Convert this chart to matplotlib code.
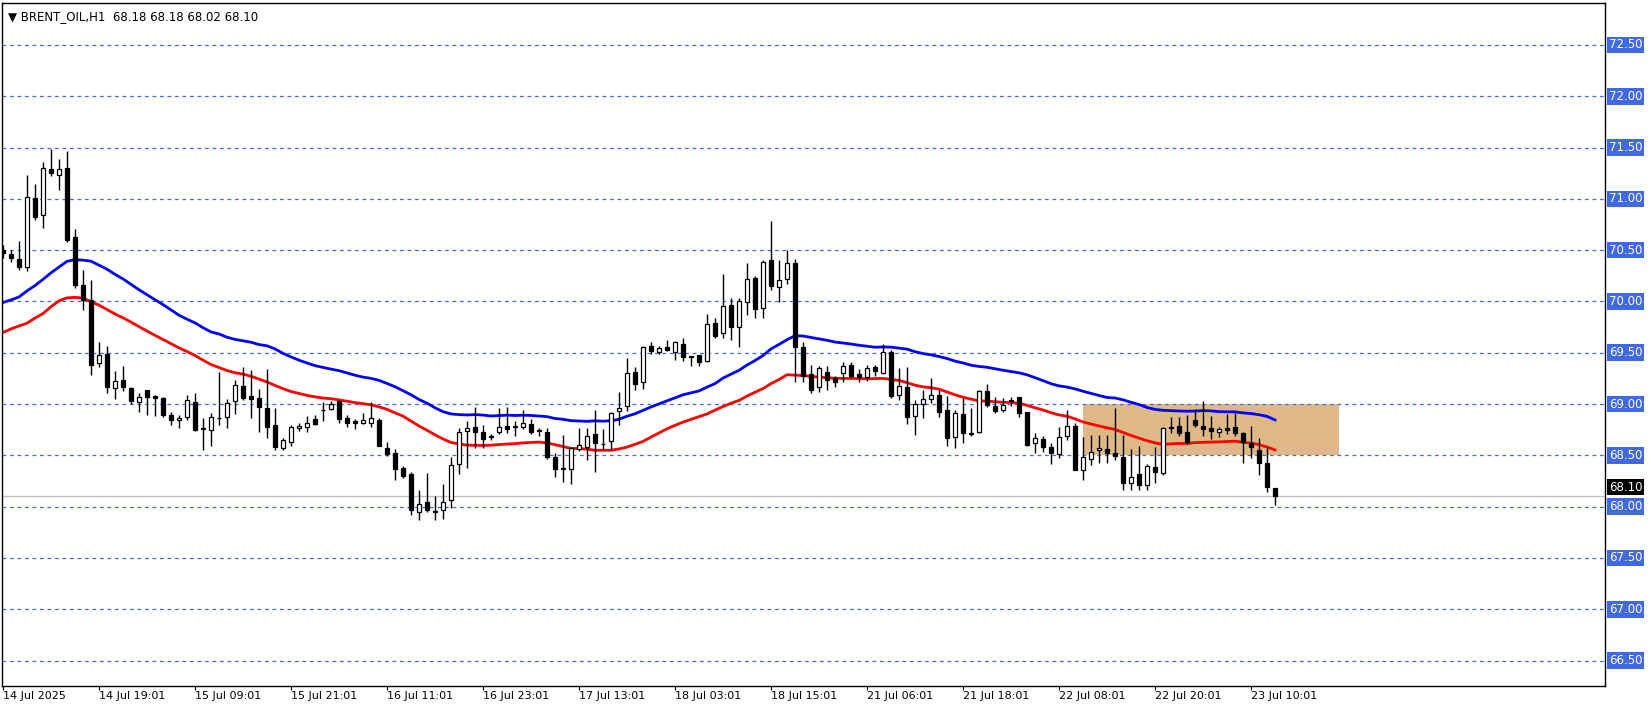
import matplotlib
matplotlib.use("Agg")
import matplotlib.pyplot as plt
from matplotlib.patches import Rectangle

# hourly Brent candles (O, H, L, C)
opens = [70.50, 70.46, 70.41, 70.34, 71.01, 70.84, 71.29, 71.23, 71.30, 70.63,
         70.16, 70.01, 69.40, 69.49, 69.16, 69.23, 69.16, 69.02, 69.14, 69.08,
         69.06, 68.89, 68.84, 68.87, 69.02, 68.76, 68.75, 68.86, 68.87, 69.03,
         69.18, 69.08, 69.06, 68.96, 68.80, 68.57, 68.63, 68.77, 68.78, 68.85,
         68.94, 68.95, 69.03, 68.86, 68.83, 68.82, 68.82, 68.84, 68.57, 68.52,
         68.38, 68.32, 67.95, 68.05, 67.95, 67.97, 68.06, 68.42, 68.74, 68.78,
         68.73, 68.68, 68.73, 68.79, 68.78, 68.78, 68.81, 68.74, 68.73, 68.48,
         68.37, 68.37, 68.56, 68.58, 68.71, 68.61, 68.64, 68.93, 68.98, 69.31,
         69.21, 69.57, 69.51, 69.56, 69.51, 69.59, 69.46, 69.48, 69.42, 69.79,
         69.69, 69.97, 69.75, 69.99, 70.23, 69.94, 70.40, 70.14, 70.22, 70.37,
         69.56, 69.29, 69.17, 69.31, 69.25, 69.30, 69.38, 69.29, 69.26, 69.36,
         69.30, 69.51, 69.09, 69.17, 68.88, 69.00, 69.05, 69.09, 68.94, 68.68,
         68.90, 68.71, 68.73, 69.13, 68.98, 68.94, 69.03, 69.07, 68.92, 68.62,
         68.66, 68.58, 68.51, 68.69, 68.79, 68.36, 68.46, 68.55, 68.56, 68.52,
         68.48, 68.23, 68.32, 68.21, 68.39, 68.33, 68.77, 68.79, 68.73, 68.84,
         68.79, 68.77, 68.73, 68.77, 68.78, 68.72, 68.62, 68.55, 68.43, 68.18]
highs = [70.55, 70.50, 70.59, 71.23, 71.14, 71.36, 71.49, 71.39, 71.47, 70.71,
         70.31, 70.21, 69.60, 69.57, 69.32, 69.37, 69.17, 69.11, 69.14, 69.09,
         69.07, 68.92, 68.89, 69.09, 69.11, 68.86, 68.91, 69.31, 69.05, 69.23,
         69.36, 69.33, 69.15, 69.34, 68.96, 68.67, 68.80, 68.82, 68.88, 68.89,
         69.02, 69.03, 69.04, 68.89, 68.85, 68.91, 69.02, 68.86, 68.63, 68.56,
         68.40, 68.34, 68.16, 68.33, 68.10, 68.22, 68.48, 68.77, 68.83, 68.97,
         68.80, 68.71, 68.96, 68.97, 68.83, 68.94, 68.85, 68.77, 68.77, 68.52,
         68.70, 68.58, 68.77, 68.77, 68.94, 68.76, 68.92, 69.12, 69.45, 69.36,
         69.57, 69.60, 69.57, 69.62, 69.61, 69.64, 69.47, 69.48, 69.88, 69.84,
         70.27, 70.03, 70.03, 70.37, 70.25, 70.40, 70.78, 70.40, 70.50, 70.41,
         69.60, 69.38, 69.37, 69.37, 69.27, 69.41, 69.41, 69.34, 69.38, 69.38,
         69.59, 69.53, 69.35, 69.36, 69.04, 69.14, 69.25, 69.14, 69.08, 68.94,
         69.06, 68.96, 69.14, 69.20, 69.07, 69.06, 69.07, 69.07, 68.92, 68.72,
         68.69, 68.62, 68.78, 68.94, 68.82, 68.68, 68.70, 68.70, 68.70, 68.96,
         68.70, 68.56, 68.59, 68.42, 68.58, 68.78, 68.87, 68.87, 68.89, 68.95,
         69.03, 68.88, 68.78, 68.90, 68.91, 68.73, 68.79, 68.67, 68.58, 68.18]
lows = [70.42, 70.38, 70.31, 70.30, 70.79, 70.72, 71.22, 71.09, 70.58, 70.13,
        69.92, 69.28, 69.36, 69.11, 69.05, 69.13, 69.00, 68.92, 68.89, 68.88,
        68.87, 68.80, 68.77, 68.84, 68.74, 68.55, 68.59, 68.80, 68.77, 68.90,
        69.04, 68.86, 68.73, 68.67, 68.55, 68.55, 68.59, 68.74, 68.73, 68.80,
        68.83, 68.94, 68.82, 68.78, 68.76, 68.81, 68.78, 68.59, 68.49, 68.26,
        68.28, 67.92, 67.87, 67.95, 67.87, 67.88, 67.99, 68.32, 68.38, 68.57,
        68.57, 68.65, 68.71, 68.72, 68.69, 68.76, 68.71, 68.69, 68.46, 68.29,
        68.24, 68.22, 68.54, 68.45, 68.34, 68.55, 68.55, 68.80, 68.93, 69.14,
        69.15, 69.49, 69.49, 69.52, 69.43, 69.42, 69.37, 69.37, 69.41, 69.64,
        69.64, 69.62, 69.56, 69.87, 69.84, 69.84, 70.11, 69.99, 70.17, 69.21,
        69.21, 69.11, 69.12, 69.14, 69.17, 69.21, 69.25, 69.21, 69.22, 69.27,
        69.29, 69.06, 69.04, 68.81, 68.70, 68.86, 69.01, 68.87, 68.59, 68.57,
        68.62, 68.69, 68.72, 68.97, 68.91, 68.92, 68.98, 68.87, 68.59, 68.52,
        68.53, 68.42, 68.47, 68.65, 68.36, 68.26, 68.41, 68.43, 68.43, 68.45,
        68.16, 68.16, 68.16, 68.16, 68.23, 68.31, 68.72, 68.69, 68.61, 68.78,
        68.69, 68.66, 68.68, 68.71, 68.69, 68.43, 68.47, 68.31, 68.14, 68.02]
closes = [70.47, 70.42, 70.34, 71.02, 70.82, 71.30, 71.25, 71.29, 70.60, 70.16,
          70.01, 69.38, 69.48, 69.17, 69.22, 69.17, 69.03, 69.07, 69.07, 69.06,
          68.89, 68.84, 68.86, 69.04, 68.75, 68.76, 68.87, 68.86, 69.01, 69.19,
          69.06, 69.05, 68.97, 68.78, 68.58, 68.65, 68.78, 68.79, 68.82, 68.81,
          68.94, 69.00, 68.85, 68.82, 68.82, 68.84, 68.86, 68.59, 68.51, 68.37,
          68.30, 67.97, 68.03, 67.97, 67.95, 68.05, 68.41, 68.73, 68.77, 68.73,
          68.66, 68.68, 68.78, 68.76, 68.78, 68.82, 68.73, 68.74, 68.48, 68.37,
          68.38, 68.57, 68.60, 68.69, 68.62, 68.61, 68.91, 68.96, 69.30, 69.20,
          69.56, 69.52, 69.55, 69.53, 69.60, 69.46, 69.46, 69.41, 69.78, 69.66,
          69.96, 69.75, 70.00, 70.22, 69.93, 70.38, 70.15, 70.21, 70.37, 69.56,
          69.27, 69.14, 69.35, 69.23, 69.21, 69.37, 69.27, 69.26, 69.35, 69.32,
          69.51, 69.08, 69.18, 68.87, 69.00, 69.05, 69.09, 68.92, 68.67, 68.91,
          68.72, 68.71, 69.13, 68.99, 68.93, 68.99, 69.03, 68.91, 68.60, 68.67,
          68.58, 68.52, 68.68, 68.79, 68.36, 68.48, 68.53, 68.57, 68.52, 68.49,
          68.23, 68.29, 68.21, 68.40, 68.34, 68.77, 68.77, 68.72, 68.63, 68.80,
          68.76, 68.74, 68.76, 68.75, 68.72, 68.63, 68.58, 68.43, 68.19, 68.10]

# moving averages of highs (blue) and lows (red), seeded from the chart
ma_alpha = 0.05
ma_high_seed = 69.96
ma_low_seed = 69.66

price_levels = [66.5, 67.0, 67.5, 68.0, 68.5, 69.0, 69.5, 70.0, 70.5, 71.0, 71.5, 72.0, 72.5]
time_labels = ["14 Jul 2025", "14 Jul 19:01", "15 Jul 09:01", "15 Jul 21:01", "16 Jul 11:01",
               "16 Jul 23:01", "17 Jul 13:01", "18 Jul 03:01", "18 Jul 15:01", "21 Jul 06:01",
               "21 Jul 18:01", "22 Jul 08:01", "22 Jul 20:01", "23 Jul 10:01"]
last_price = 68.10
zone_low, zone_high = 68.5, 69.0
zone_start, zone_end = 135, 167


def ema(values, seed, a):
    out = []
    v = seed
    for x in values:
        v = v + a * (x - v)
        out.append(v)
    return out


W, H = 1651, 705
fig = plt.figure(figsize=(W / 100, H / 100), dpi=100)
ax = fig.add_axes([2 / W, 1 - 686 / H, 1603 / W, 683 / H])
ax.set_xlim(-0.125, 200.25)
ax.set_ylim(72.938 - 686 / 102.6, 72.938 - 3 / 102.6)

grid_blue = "#4169E1"
for p in price_levels:
    ax.axhline(p, color=grid_blue, lw=0.9, ls=(0, (3, 3)), zorder=1)

ax.add_patch(Rectangle((zone_start, zone_low), zone_end - zone_start, zone_high - zone_low,
                       facecolor="#DEB887", edgecolor="none", zorder=0.5))

ax.axhline(last_price, color="#C0C0C0", lw=1, zorder=1.5)

idx = list(range(len(closes)))
ax.plot(idx, ema(highs, ma_high_seed, ma_alpha), color="#0000FF", lw=2, zorder=2)
ax.plot(idx, ema(lows, ma_low_seed, ma_alpha), color="#FF0000", lw=2, zorder=2)

ax.vlines(idx, lows, highs, color="black", lw=1, zorder=3)
for i in idx:
    o, c = opens[i], closes[i]
    bottom = min(o, c)
    height = max(abs(c - o), 0.005)
    face = "white" if c > o else "black"
    ax.bar(i, height, bottom=bottom, width=0.6, color=face, edgecolor="black", lw=0.9, zorder=4)

ax.set_yticks([])
ax.set_xticks([12 * k for k in range(len(time_labels))])
ax.set_xticklabels(time_labels, ha="left", fontsize=8)
ax.tick_params(axis="x", direction="out", length=3, pad=0.5)
for spine in ax.spines.values():
    spine.set_linewidth(1)

# price labels on the right
for p in price_levels:
    ax.text(1.0024, p, f"{p:.2f}", transform=ax.get_yaxis_transform(), ha="left", va="center",
            fontsize=8.5, color="white",
            bbox=dict(boxstyle="square,pad=0.15", fc=grid_blue, ec="none"))
ax.text(1.0024, last_price + 0.09, f"{last_price:.2f}", transform=ax.get_yaxis_transform(),
        ha="left", va="center", fontsize=8.5, color="white",
        bbox=dict(boxstyle="square,pad=0.15", fc="black", ec="none"), zorder=5)

ax.text(0.004, 0.99, "\u25BC BRENT_OIL,H1  68.18 68.18 68.02 68.10", transform=ax.transAxes,
        ha="left", va="top", fontsize=8.5)

fig.savefig("out.png", dpi=100)
